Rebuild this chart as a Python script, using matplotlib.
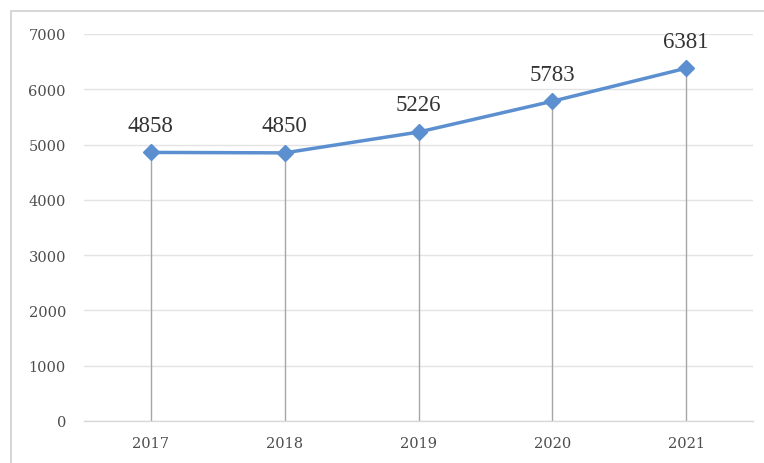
import matplotlib
matplotlib.use("Agg")
import matplotlib.pyplot as plt
from matplotlib.patches import Rectangle

years = ["2017", "2018", "2019", "2020", "2021"]
values = [4858, 4850, 5226, 5783, 6381]
y_ticks = [0, 1000, 2000, 3000, 4000, 5000, 6000, 7000]

W, H = 764, 464
fig = plt.figure(figsize=(W / 100, H / 100), dpi=100)
fig.patch.set_facecolor("white")

# outer chart border
fig.add_artist(Rectangle((11 / W, -0.05), 1.2, 1 - 12 / H + 0.05, transform=fig.transFigure,
                         fill=False, edgecolor="#d0d0d0", linewidth=1.2))

ax = fig.add_axes([84 / W, 1 - 422 / H, (753 - 84) / W, (422 - 35) / H])
x = list(range(len(years)))

ax.set_ylim(0, 7000)
ax.set_xlim(-0.5, len(years) - 0.5)
ax.set_yticks(y_ticks)
ax.set_yticklabels([str(v) for v in y_ticks])
ax.set_xticks(x)
ax.set_xticklabels(years)

ax.grid(axis="y", color="#e3e3e3", linewidth=1.0)
ax.set_axisbelow(True)
for s in ["top", "right", "left"]:
    ax.spines[s].set_visible(False)
ax.spines["bottom"].set_color("#d9d9d9")
ax.spines["bottom"].set_linewidth(1.0)
ax.tick_params(axis="both", length=0, colors="#4d4d4d", labelsize=10.5)
ax.tick_params(axis="y", pad=13)
ax.tick_params(axis="x", pad=11)
for lab in ax.get_xticklabels() + ax.get_yticklabels():
    lab.set_fontfamily("DejaVu Serif")

# drop lines
ax.vlines(x, 0, values, colors="#a6a6a6", linewidth=1.0, zorder=2)

ax.plot(x, values, color="#5b8fcf", linewidth=2.5, marker="D", markersize=8,
        markerfacecolor="#5b8fcf", markeredgecolor="#5b8fcf", zorder=3)

for xi, v in zip(x, values):
    ax.annotate(str(v), (xi, v), xytext=(0, 12), textcoords="offset points",
                ha="center", va="bottom", fontsize=16.5, color="#333333",
                fontfamily="Liberation Serif")

fig.savefig("out.png", dpi=100)
